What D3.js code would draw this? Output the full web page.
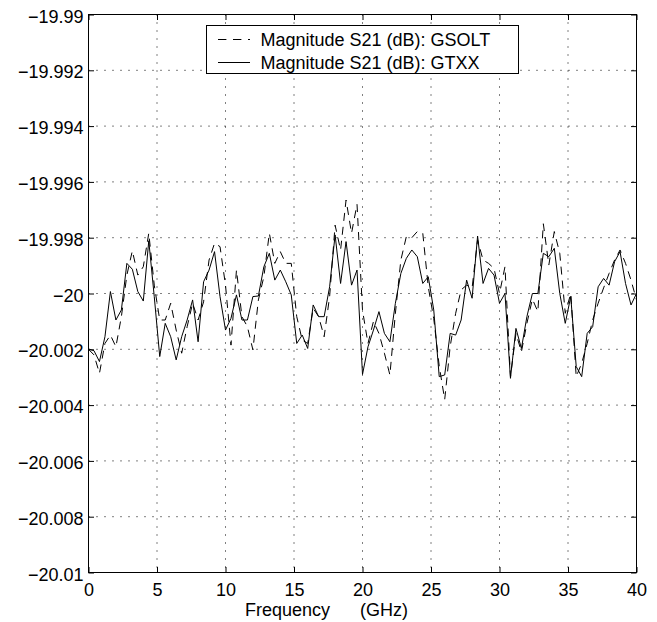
<!DOCTYPE html>
<head>
<meta charset="utf-8">
<script src="https://d3js.org/d3.v7.min.js"></script>
<style>
    body { margin: 0; background: #fff; }
    svg { font-family: "Liberation Sans", Arial, sans-serif; }
    .tick text { font-size: 18px; fill: #000; }
    .grid line { stroke: #000; stroke-width: 1; stroke-dasharray: 1, 7; }
</style>
</head>
<body>
<div id="chart"></div>
<script>
// frequency points (GHz)
var freq = [0, 0.4, 0.8, 1.2, 1.6, 2, 2.4, 2.8, 3.2, 3.6, 4, 4.4, 4.8, 5.2, 5.6, 6, 6.4, 6.8, 7.2, 7.6,
    8, 8.4, 8.8, 9.2, 9.6, 10, 10.4, 10.8, 11.2, 11.6, 12, 12.4, 12.8, 13.2, 13.6, 14, 14.4, 14.8, 15.2, 15.6,
    16, 16.4, 16.8, 17.2, 17.6, 18, 18.4, 18.8, 19.2, 19.6, 20, 20.4, 20.8, 21.2, 21.6, 22, 22.4, 22.8, 23.2, 23.6,
    24, 24.4, 24.8, 25.2, 25.6, 26, 26.4, 26.8, 27.2, 27.6, 28, 28.4, 28.8, 29.2, 29.6, 30, 30.4, 30.8, 31.2, 31.6,
    32, 32.4, 32.8, 33.2, 33.6, 34, 34.4, 34.8, 35.2, 35.6, 36, 36.4, 36.8, 37.2, 37.6, 38, 38.4, 38.8, 39.2, 39.6, 40];

// Magnitude S21 (dB): GSOLT  (dashed)
var gsolt = [-20.00200, -20.00220, -20.00286, -20.00179, -20.00149, -20.00191, -20.00083, -19.99934, -19.99847, -19.99934,
    -19.99904, -19.99784, -19.99970, -20.00095, -20.00095, -20.00035, -20.00131, -20.00214, -20.00119, -20.00035,
    -20.00095, -20.00030, -19.99880, -19.99820, -19.99832, -19.99970, -20.00185, -19.99916, -20.00083, -20.00119,
    -20.00202, -20.00023, -19.99940, -19.99784, -19.99892, -19.99850, -19.99892, -19.99892, -20.00083, -20.00167,
    -20.00179, -20.00053, -20.00083, -20.00155, -20.00011, -19.99755, -19.99844, -19.99665, -19.99784, -19.99680,
    -20.00060, -20.00179, -20.00100, -20.00143, -20.00214, -20.00292, -20.00071, -19.99880, -19.99796, -19.99800,
    -19.99778, -19.99784, -19.99976, -20.00090, -20.00260, -20.00380, -20.00190, -20.00071, -19.99987, -19.99970,
    -19.99980, -19.99808, -19.99880, -19.99892, -19.99910, -20.00000, -19.99904, -20.00298, -20.00143, -20.00209,
    -20.00107, -20.00020, -20.00065, -19.99750, -19.99898, -19.99778, -19.99856, -20.00071, -20.00000, -20.00298,
    -20.00250, -20.00179, -20.00095, -20.00035, -19.99980, -19.99928, -19.99880, -19.99844, -19.99892, -19.99952, -20.00023];

// Magnitude S21 (dB): GTXX  (solid)
var gtxx = [-20.00199, -20.00205, -20.00244, -20.00155, -19.99993, -20.00095, -20.00059, -19.99892, -19.99913, -19.99993,
    -20.00027, -19.99811, -20.00011, -20.00226, -20.00107, -20.00155, -20.00238, -20.00155, -20.00095, -20.00023,
    -20.00173, -19.99958, -19.99916, -19.99850, -20.00011, -20.00131, -20.00089, -20.00005, -20.00095, -20.00095,
    -20.00011, -20.00009, -19.99904, -19.99856, -19.99952, -19.99916, -19.99958, -20.00005, -20.00179, -20.00149,
    -20.00197, -20.00041, -20.00083, -20.00083, -19.99976, -19.99790, -19.99964, -19.99814, -19.99970, -19.99916,
    -20.00290, -20.00191, -20.00131, -20.00065, -20.00143, -20.00173, -20.00035, -19.99928, -19.99874, -19.99844,
    -19.99868, -19.99964, -19.99940, -20.00059, -20.00298, -20.00292, -20.00143, -20.00149, -20.00095, -19.99952,
    -20.00017, -19.99794, -19.99964, -19.99910, -19.99934, -20.00035, -20.00000, -20.00304, -20.00125, -20.00197,
    -20.00083, -20.00000, -20.00000, -19.99856, -19.99868, -19.99838, -20.00000, -20.00107, -20.00011, -20.00262,
    -20.00298, -20.00143, -20.00119, -19.99976, -19.99946, -19.99970, -19.99886, -19.99850, -19.99964, -20.00041, -20.00000];

var xTicks = [0, 5, 10, 15, 20, 25, 30, 35, 40];
var yTicks = [-20.01, -20.008, -20.006, -20.004, -20.002, -20, -19.998, -19.996, -19.994, -19.992, -19.99];
var yTickLabels = ["\u221220.01", "\u221220.008", "\u221220.006", "\u221220.004", "\u221220.002", "\u221220",
    "\u221219.998", "\u221219.996", "\u221219.994", "\u221219.992", "\u221219.99"];
var seriesNames = ["Magnitude S21 (dB): GSOLT", "Magnitude S21 (dB): GTXX"];

var width = 657, height = 622;
var plotLeft = 88.5, plotRight = 636.5, plotTop = 14.5, plotBottom = 572.5;

var svg = d3.select("#chart").append("svg")
    .attr("width", width)
    .attr("height", height);

var x = d3.scaleLinear().domain([0, 40]).range([plotLeft, plotRight]);
var y = d3.scaleLinear().domain([-20.01, -19.99]).range([plotBottom, plotTop]);

// dotted grid
var grid = svg.append("g").attr("class", "grid");
grid.selectAll(".gx")
    .data(xTicks.slice(1, -1))
    .enter().append("line")
    .attr("x1", function(d) { return x(d); })
    .attr("x2", function(d) { return x(d); })
    .attr("y1", plotTop)
    .attr("y2", plotBottom);
grid.selectAll(".gy")
    .data(yTicks.slice(1, -1))
    .enter().append("line")
    .attr("x1", plotLeft)
    .attr("x2", plotRight)
    .attr("y1", function(d) { return y(d); })
    .attr("y2", function(d) { return y(d); });

// axes, ticks pointing inwards
var xAxis = svg.append("g")
    .attr("transform", "translate(0," + plotBottom + ")")
    .call(d3.axisBottom(x).tickValues(xTicks).tickSize(-5.5).tickPadding(10.5).tickFormat(d3.format("d")));
var xAxisTop = svg.append("g")
    .attr("transform", "translate(0," + plotTop + ")")
    .call(d3.axisTop(x).tickValues(xTicks).tickSize(-5.5).tickFormat(""));
var yAxis = svg.append("g")
    .attr("transform", "translate(" + plotLeft + ",0)")
    .call(d3.axisLeft(y).tickValues(yTicks).tickSize(-5.5).tickPadding(5)
        .tickFormat(function(d, i) { return yTickLabels[i]; }));
var yAxisRight = svg.append("g")
    .attr("transform", "translate(" + plotRight + ",0)")
    .call(d3.axisRight(y).tickValues(yTicks).tickSize(-5.5).tickFormat(""));

[xAxis, xAxisTop, yAxis, yAxisRight].forEach(function(a) {
    a.attr("font-family", null).attr("font-size", null);
    a.select(".domain").remove();
    a.selectAll(".tick line").attr("stroke", "#000");
});
yAxis.selectAll(".tick text").attr("dy", "0.42em");

// frame
svg.append("rect")
    .attr("x", plotLeft).attr("y", plotTop)
    .attr("width", plotRight - plotLeft).attr("height", plotBottom - plotTop)
    .attr("fill", "none").attr("stroke", "#000");

// the two traces
var line = d3.line()
    .x(function(d, i) { return x(freq[i]); })
    .y(function(d) { return y(d); });

svg.append("path")
    .datum(gsolt)
    .attr("fill", "none")
    .attr("stroke", "#000")
    .attr("stroke-width", 1)
    .attr("stroke-dasharray", "8,6")
    .attr("d", line);

svg.append("path")
    .datum(gtxx)
    .attr("fill", "none")
    .attr("stroke", "#000")
    .attr("stroke-width", 1)
    .attr("d", line);

// legend
var lg = svg.append("g");
lg.append("rect")
    .attr("x", 206.5).attr("y", 25.5)
    .attr("width", 312).attr("height", 48)
    .attr("fill", "#fff").attr("stroke", "#000");
var rows = [{dash: "8.4,6.6", y: 39.5}, {dash: null, y: 62.5}];
rows.forEach(function(r, i) {
    lg.append("line")
        .attr("x1", 218).attr("x2", 250)
        .attr("y1", r.y).attr("y2", r.y)
        .attr("stroke", "#000")
        .attr("stroke-dasharray", r.dash);
    lg.append("text")
        .attr("x", 260.5).attr("y", r.y + 6.5)
        .attr("font-size", "18px")
        .text(seriesNames[i]);
});

// x label
svg.append("text")
    .attr("x", 245).attr("y", 616)
    .attr("font-size", "18px")
    .attr("xml:space", "preserve")
    .style("white-space", "pre")
    .text("Frequency      (GHz)");
</script>
</body>
